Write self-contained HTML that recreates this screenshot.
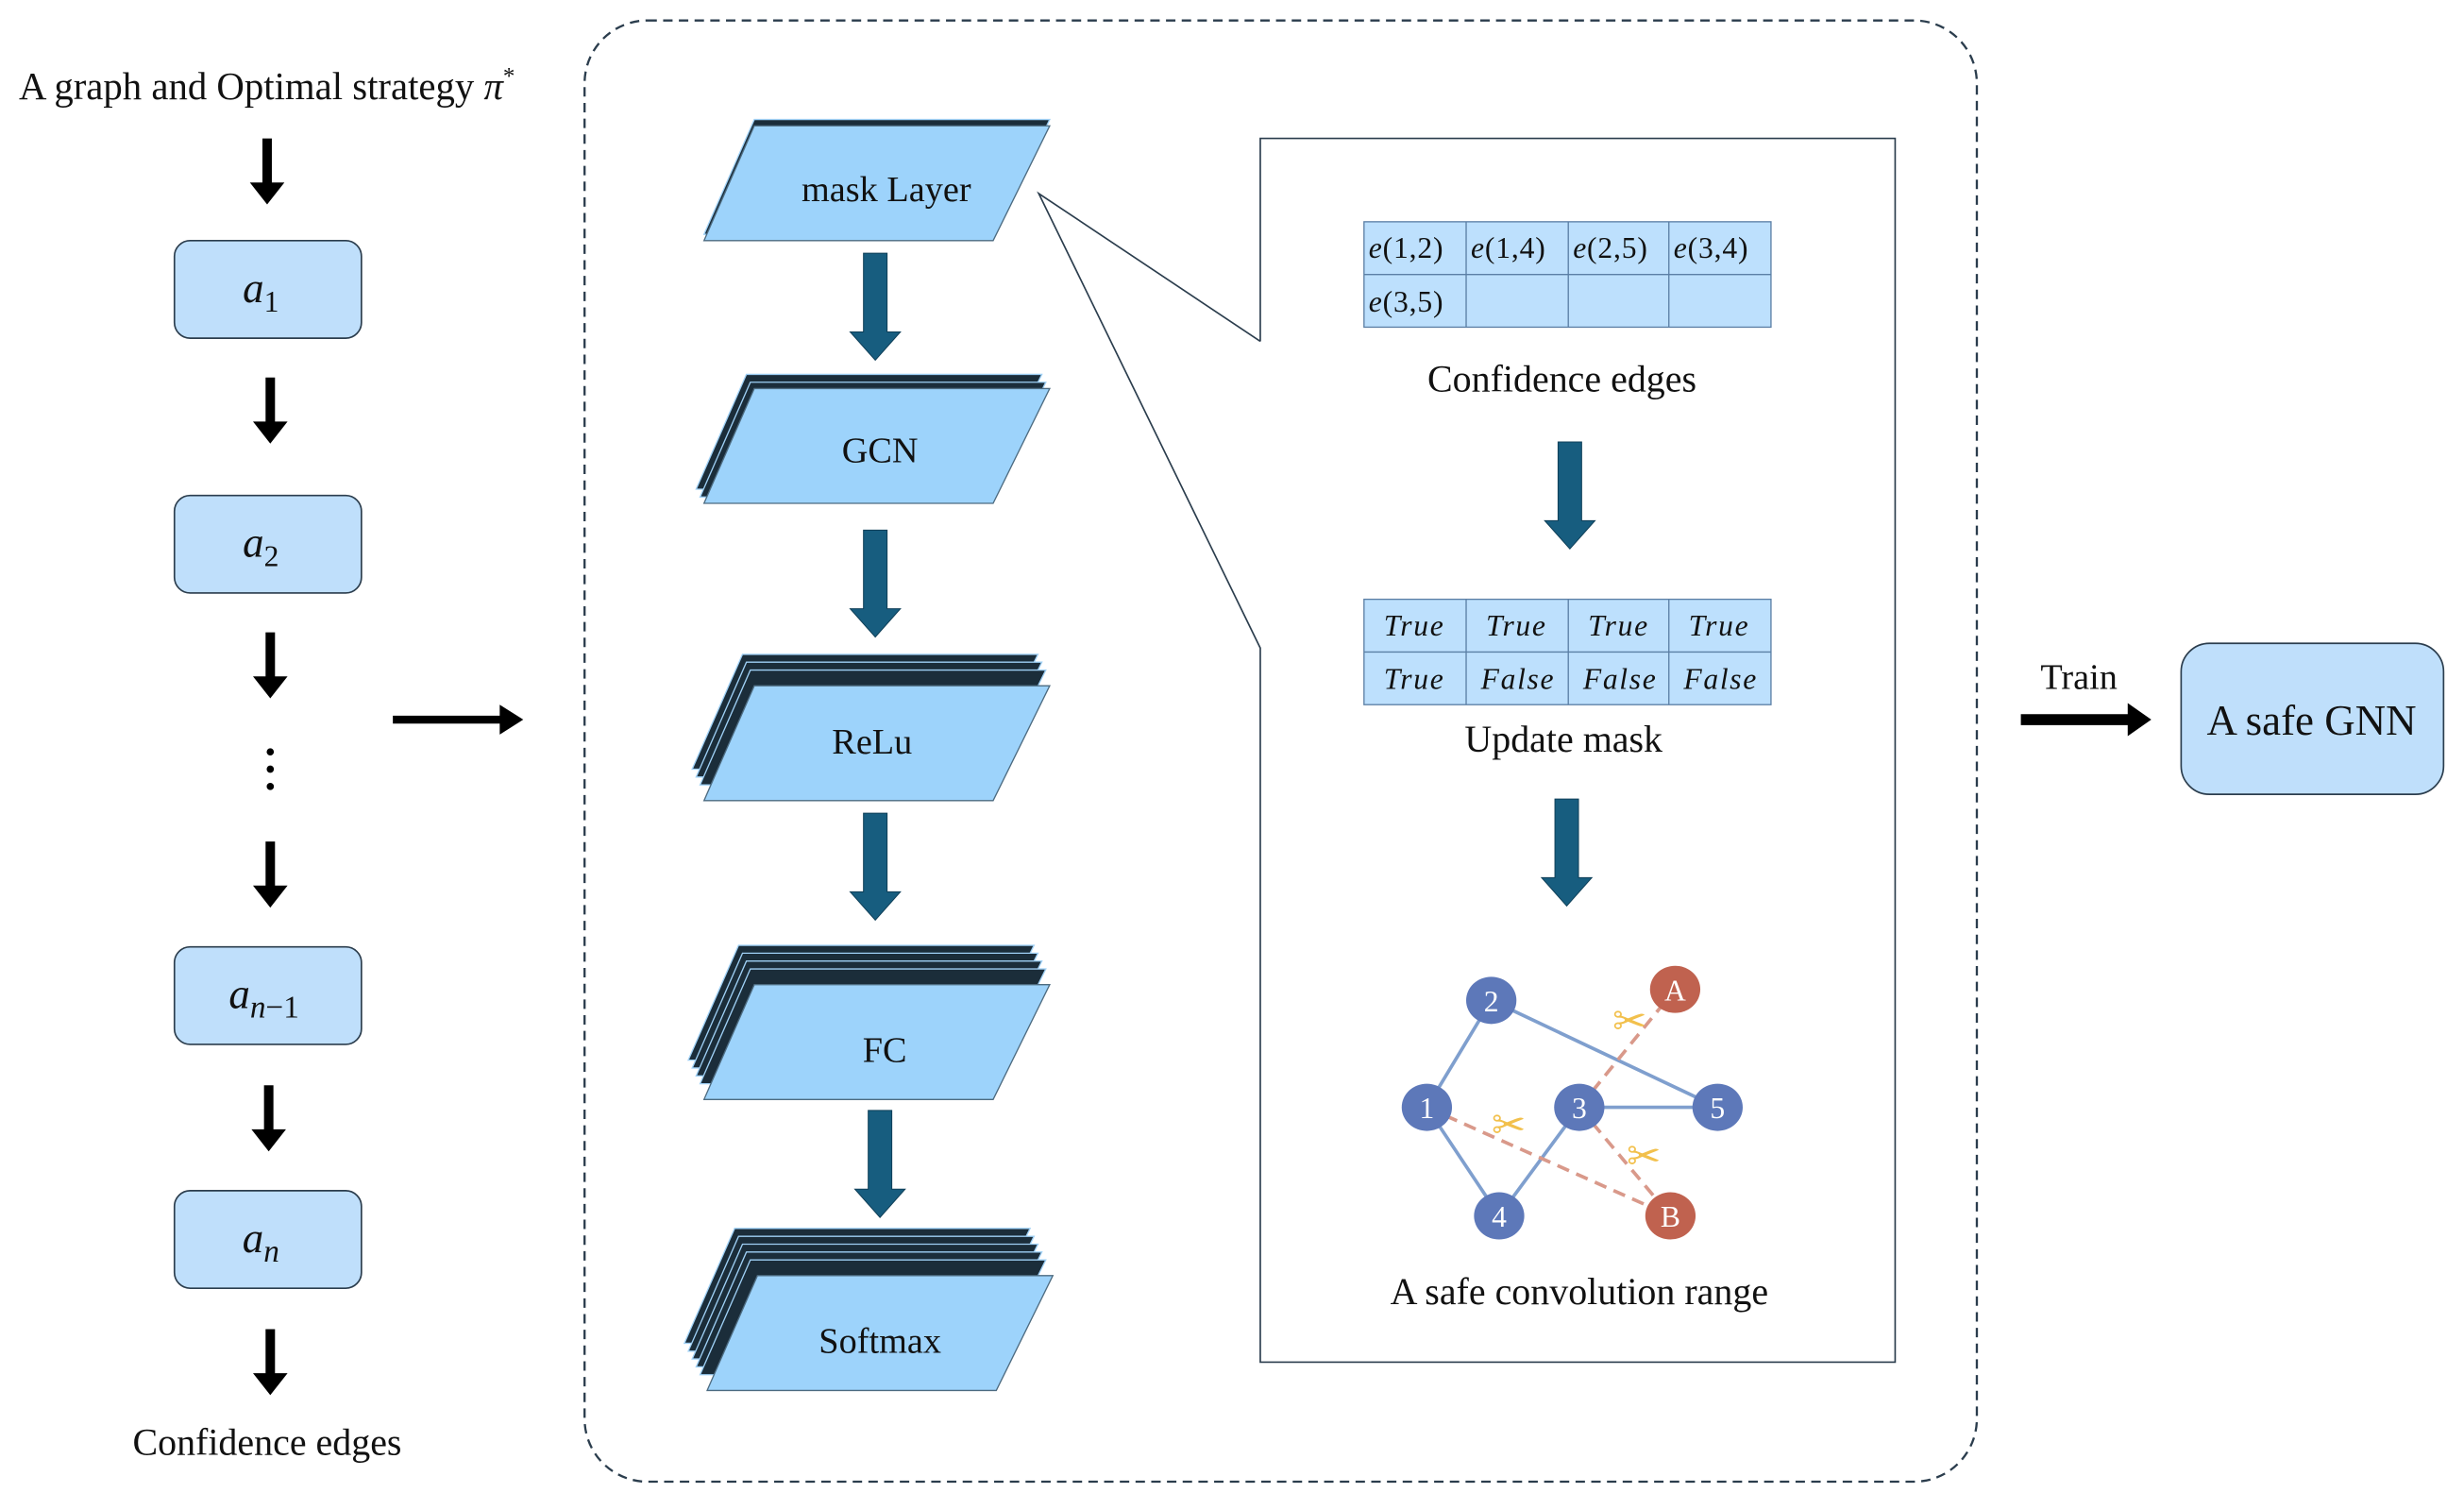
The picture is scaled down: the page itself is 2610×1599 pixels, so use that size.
<!DOCTYPE html>
<html><head><meta charset="utf-8"><style>
html,body{margin:0;padding:0;background:#fff;}
svg{display:block;}
text{font-family:"Liberation Serif",serif;fill:#111;}
</style></head><body>
<svg width="2610" height="1599" viewBox="0 0 1568 960" preserveAspectRatio="none" xmlns="http://www.w3.org/2000/svg">
<defs>
<polygon id="pg" points="32,0 220,0 184,73 0,73"/>
<path id="ba" d="M-3,0 H3 V28 H11 L0,42 L-11,28 H-3 Z"/>
<path id="ta" d="M-7.5,0 H7.5 V50 H16 L0,68 L-16,50 H-7.5 Z"/>
</defs>

<!-- left column -->
<text x="12" y="63" font-size="24.5">A graph and Optimal strategy <tspan font-style="italic">π</tspan><tspan font-size="15" dy="-10">*</tspan></text>
<g fill="#000">
<use href="#ba" x="170" y="88"/>
<use href="#ba" x="172" y="240"/>
<use href="#ba" x="172" y="402"/>
<use href="#ba" x="172" y="535"/>
<use href="#ba" x="171" y="690"/>
<use href="#ba" x="172" y="845"/>
</g>
<circle cx="172" cy="478" r="2.3" fill="#000"/><circle cx="172" cy="489" r="2.3" fill="#000"/><circle cx="172" cy="500" r="2.3" fill="#000"/>
<g fill="#bfdffb" stroke="#2b3d4d" stroke-width="1">
<rect x="111" y="153" width="119" height="62" rx="10"/>
<rect x="111" y="315" width="119" height="62" rx="10"/>
<rect x="111" y="602" width="119" height="62" rx="10"/>
<rect x="111" y="757" width="119" height="62" rx="10"/>
</g>
<g font-size="27" font-style="italic" text-anchor="middle">
<text x="166" y="192">a<tspan font-size="19" dy="6" font-style="normal">1</tspan></text>
<text x="166" y="354">a<tspan font-size="19" dy="6" font-style="normal">2</tspan></text>
<text x="168" y="641">a<tspan font-size="20" dy="6">n</tspan><tspan font-size="20" font-style="normal">−1</tspan></text>
<text x="166" y="796">a<tspan font-size="20" dy="6">n</tspan></text>
</g>
<text x="170" y="925" font-size="24" text-anchor="middle">Confidence edges</text>
<path d="M250,455 H318 V448 L333,457.5 L318,467 V460 H250 Z" fill="#000"/>

<!-- dashed container -->
<rect x="372" y="13" width="886" height="929" rx="40" fill="none" stroke="#2b3d4d" stroke-width="1.4" stroke-dasharray="6,4"/>

<!-- layer stacks -->
<g stroke="#9fd0f5" stroke-width="0.8">
<use href="#pg" x="448" y="76" fill="#1b2d3a"/>
<use href="#pg" x="443" y="238" fill="#1b2d3a"/>
<use href="#pg" x="445.5" y="243" fill="#1b2d3a"/>
<use href="#pg" x="440.5" y="416" fill="#1b2d3a"/>
<use href="#pg" x="443" y="421" fill="#1b2d3a"/>
<use href="#pg" x="445.5" y="426" fill="#1b2d3a"/>
<use href="#pg" x="438" y="601" fill="#1b2d3a"/>
<use href="#pg" x="440.5" y="606" fill="#1b2d3a"/>
<use href="#pg" x="443" y="611" fill="#1b2d3a"/>
<use href="#pg" x="445.5" y="616" fill="#1b2d3a"/>
<use href="#pg" x="435.5" y="781" fill="#1b2d3a"/>
<use href="#pg" x="438" y="786" fill="#1b2d3a"/>
<use href="#pg" x="440.5" y="791" fill="#1b2d3a"/>
<use href="#pg" x="443" y="796" fill="#1b2d3a"/>
<use href="#pg" x="445.5" y="801" fill="#1b2d3a"/>
</g>
<g fill="#9dd3fb" stroke="#4d6b80" stroke-width="0.8">
<use href="#pg" x="448" y="80"/>
<use href="#pg" x="448" y="247"/>
<use href="#pg" x="448" y="436"/>
<use href="#pg" x="448" y="626"/>
<use href="#pg" x="450" y="811"/>
</g>
<g font-size="23" text-anchor="middle">
<text x="564" y="128">mask Layer</text>
<text x="560" y="294">GCN</text>
<text x="555" y="479">ReLu</text>
<text x="563" y="675">FC</text>
<text x="560" y="860">Softmax</text>
</g>
<g fill="#175d7f" stroke="#0f3f58" stroke-width="0.6">
<use href="#ta" x="557" y="161"/>
<use href="#ta" x="557" y="337"/>
<use href="#ta" x="557" y="517"/>
<use href="#ta" x="560" y="706"/>
<use href="#ta" x="999" y="281"/>
<use href="#ta" x="997" y="508"/>
</g>

<!-- callout panel -->
<path d="M802,217 V88 H1206 V866 H802 V412 L661,123 L802,217" fill="none" stroke="#2b3d4d" stroke-width="1"/>

<!-- table 1 -->
<rect x="868" y="141" width="259" height="67" fill="#bde0fd" stroke="#5b7fa5" stroke-width="0.8"/>
<g stroke="#5b7fa5" stroke-width="0.8">
<line x1="868" y1="174.5" x2="1127" y2="174.5"/>
<line x1="933" y1="141" x2="933" y2="208"/><line x1="998" y1="141" x2="998" y2="208"/><line x1="1062" y1="141" x2="1062" y2="208"/>
</g>
<g font-size="19" letter-spacing="0.5">
<text x="871" y="164"><tspan font-style="italic">e</tspan>(1,2)</text>
<text x="936" y="164"><tspan font-style="italic">e</tspan>(1,4)</text>
<text x="1001" y="164"><tspan font-style="italic">e</tspan>(2,5)</text>
<text x="1065" y="164"><tspan font-style="italic">e</tspan>(3,4)</text>
<text x="871" y="198"><tspan font-style="italic">e</tspan>(3,5)</text>
</g>
<text x="994" y="249" font-size="24" text-anchor="middle">Confidence edges</text>

<!-- table 2 -->
<rect x="868" y="381" width="259" height="67" fill="#bde0fd" stroke="#5b7fa5" stroke-width="0.8"/>
<g stroke="#5b7fa5" stroke-width="0.8">
<line x1="868" y1="414.5" x2="1127" y2="414.5"/>
<line x1="933" y1="381" x2="933" y2="448"/><line x1="998" y1="381" x2="998" y2="448"/><line x1="1062" y1="381" x2="1062" y2="448"/>
</g>
<g font-size="19" font-style="italic" text-anchor="middle" letter-spacing="1">
<text x="900" y="404">True</text><text x="965" y="404">True</text><text x="1030" y="404">True</text><text x="1094" y="404">True</text>
<text x="900" y="438">True</text><text x="966" y="438">False</text><text x="1031" y="438">False</text><text x="1095" y="438">False</text>
</g>
<text x="995" y="478" font-size="24" text-anchor="middle">Update mask</text>

<!-- graph -->
<g stroke="#7f9fce" stroke-width="2.2">
<line x1="908" y1="704" x2="949" y2="636"/>
<line x1="908" y1="704" x2="954" y2="773"/>
<line x1="954" y1="773" x2="1005" y2="704"/>
<line x1="1005" y1="704" x2="1093" y2="704"/>
<line x1="949" y1="636" x2="1093" y2="704"/>
</g>
<g stroke="#d9998a" stroke-width="2.2" stroke-dasharray="8,5">
<line x1="1005" y1="704" x2="1066" y2="629"/>
<line x1="1005" y1="704" x2="1063" y2="773"/>
<line x1="908" y1="704" x2="1063" y2="773"/>
</g>
<g font-size="26" text-anchor="middle">
<text x="1037" y="658" style="fill:#f2c04c">✂</text>
<text x="960" y="724" style="fill:#f2c04c">✂</text>
<text x="1046" y="744" style="fill:#f2c04c">✂</text>
</g>
<g fill="#5d78b9">
<ellipse cx="949" cy="636" rx="16" ry="15"/>
<ellipse cx="908" cy="704" rx="16" ry="15"/>
<ellipse cx="1005" cy="704" rx="16" ry="15"/>
<ellipse cx="1093" cy="704" rx="16" ry="15"/>
<ellipse cx="954" cy="773" rx="16" ry="15"/>
</g>
<g fill="#c0624f">
<ellipse cx="1066" cy="629" rx="16" ry="15"/>
<ellipse cx="1063" cy="773" rx="16" ry="15"/>
</g>
<g font-size="19" text-anchor="middle">
<text x="949" y="643" style="fill:#fff">2</text>
<text x="908" y="711" style="fill:#fff">1</text>
<text x="1005" y="711" style="fill:#fff">3</text>
<text x="1093" y="711" style="fill:#fff">5</text>
<text x="954" y="780" style="fill:#fff">4</text>
<text x="1066" y="636" style="fill:#fff">A</text>
<text x="1063" y="780" style="fill:#fff">B</text>
</g>
<text x="1005" y="829" font-size="24" text-anchor="middle">A safe convolution range</text>

<!-- right -->
<text x="1323" y="438" font-size="23" text-anchor="middle">Train</text>
<path d="M1286,454 H1354 V447 L1369,457.5 L1354,468 V461 H1286 Z" fill="#000"/>
<rect x="1388" y="409" width="167" height="96" rx="18" fill="#bfdffb" stroke="#2b3d4d" stroke-width="1"/>
<text x="1471" y="467" font-size="27" text-anchor="middle">A safe GNN</text>
</svg>
</body></html>
